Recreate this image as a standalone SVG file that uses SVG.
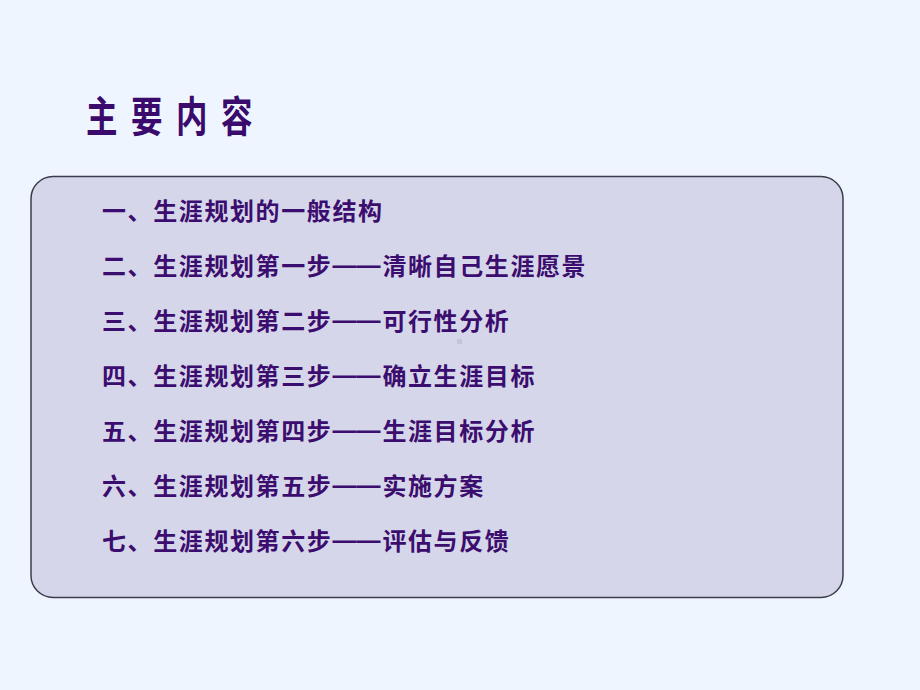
<svg xmlns="http://www.w3.org/2000/svg" width="920" height="690" viewBox="0 0 920 690">
<style>
.item{font-family:"Noto Sans CJK SC","Noto Sans",sans-serif;font-size:24px;font-weight:bold;fill:#3b0d6e;letter-spacing:1.6px}
.dash{font-family:"Liberation Sans",sans-serif;letter-spacing:0}
.title{font-family:"Noto Sans CJK SC","Noto Sans",sans-serif;font-size:42px;font-weight:bold;fill:#3a0a6c;letter-spacing:18px}
</style>
<rect x="0" y="0" width="920" height="690" fill="#eef5fe"/>
<g id="title"><text class="title" transform="translate(86,132) scale(0.75,1)">主要内容</text></g>
<g id="panel">
<rect x="31" y="176.5" width="812" height="421" rx="22" ry="22" fill="#d6d6ea" stroke="#3c3c4c" stroke-width="1.5"/>
<rect x="457" y="339" width="5" height="5" fill="#c4c4d8"/>
</g>
<g id="items">
<text class="item" x="102" y="220">一、生涯规划的一般结构</text>
<text class="item" x="102" y="275">二、生涯规划第一步<tspan class="dash" dy="-2">——</tspan><tspan dx="2" dy="2">清晰自己生涯愿景</tspan></text>
<text class="item" x="102" y="330">三、生涯规划第二步<tspan class="dash" dy="-2">——</tspan><tspan dx="2" dy="2">可行性分析</tspan></text>
<text class="item" x="102" y="385">四、生涯规划第三步<tspan class="dash" dy="-2">——</tspan><tspan dx="2" dy="2">确立生涯目标</tspan></text>
<text class="item" x="102" y="440">五、生涯规划第四步<tspan class="dash" dy="-2">——</tspan><tspan dx="2" dy="2">生涯目标分析</tspan></text>
<text class="item" x="102" y="495">六、生涯规划第五步<tspan class="dash" dy="-2">——</tspan><tspan dx="2" dy="2">实施方案</tspan></text>
<text class="item" x="102" y="550">七、生涯规划第六步<tspan class="dash" dy="-2">——</tspan><tspan dx="2" dy="2">评估与反馈</tspan></text>
</g>
</svg>
